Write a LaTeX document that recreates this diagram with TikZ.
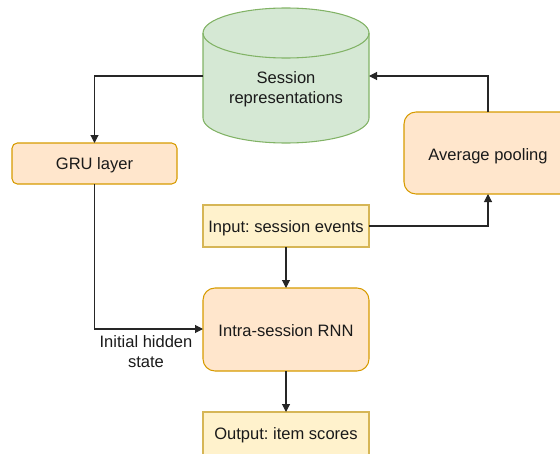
\documentclass[tikz,border=0pt]{standalone}
\usepackage{fontspec}
\setmainfont{Liberation Sans}
\usetikzlibrary{shapes.geometric,arrows.meta}
\definecolor{greenfill}{HTML}{D5E8D4}
\definecolor{greenline}{HTML}{82B366}
\definecolor{orangefill}{HTML}{FFE6CC}
\definecolor{orangeline}{HTML}{D79B00}
\definecolor{yellowfill}{HTML}{FFF2CC}
\definecolor{yellowline}{HTML}{D6B656}
\definecolor{textcol}{HTML}{1A1A1A}
\tikzset{
  every node/.style={font=\frenchspacing\fontsize{12.4}{15}\selectfont, text=textcol},
  procbox/.style={draw=orangeline, fill=orangefill, line width=0.8pt},
  iobox/.style={draw=yellowline, fill=yellowfill, line width=0.8pt},
  cylline/.style={draw=greenline, line width=0.8pt},
  flow/.style={draw=black!85, line width=0.8pt, -{Triangle[length=6pt,width=6pt]}},
}
\begin{document}
\begin{tikzpicture}[x=0.75pt,y=-0.75pt]
\useasboundingbox (0,0) rectangle (560,453);
\begin{scope}
\clip (0,0) rectangle (560,453);

% storage cylinder (y axis points down, so angle 90 is the lower side)
\fill[greenfill] (203,33) -- (203,118) arc[start angle=180,end angle=0,x radius=83,y radius=25]
  -- (369,33) arc[start angle=0,end angle=-180,x radius=83,y radius=25] -- cycle;
\draw[cylline] (203,33) -- (203,118) arc[start angle=180,end angle=0,x radius=83,y radius=25] -- (369,33);
\draw[cylline] (286,33) ellipse[x radius=83,y radius=25];
\coordinate (cylW) at (203,76);
\coordinate (cylE) at (369,76);
\node[align=center] (cyl) at (286,89) {Session\\representations};

% boxes
\draw[procbox, rounded corners=4pt] (12,143) rectangle (177,184);
\node (gru) at (94.5,165.5) {GRU layer};
\coordinate (gruN) at (94.5,143);
\coordinate (gruS) at (94.5,184);

\draw[procbox, rounded corners=9pt] (404,112) rectangle (572,194);
\node (pool) at (488,156) {Average pooling};
\coordinate (poolN) at (488,112);
\coordinate (poolS) at (488,194);

\draw[iobox] (203,205) rectangle (369,247);
\node (inp) at (286,228) {Input: session events};
\coordinate (inpE) at (369,226);
\coordinate (inpS) at (286,247);

\draw[procbox, rounded corners=9pt] (203,288) rectangle (369,371);
\node (rnn) at (286,331) {Intra-session RNN};
\coordinate (rnnN) at (286,288);
\coordinate (rnnW) at (203,329);
\coordinate (rnnS) at (286,371);

\draw[iobox] (203,412) rectangle (369,455);
\node (out) at (286,435) {Output: item scores};
\coordinate (outN) at (286,412);

% connectors
\draw[flow] (cylW) -| (gruN);
\draw[flow] (poolN) |- (cylE);
\draw[flow] (inpE) -| (poolS);
\draw[flow] (inpS) -- (rnnN);
\draw[flow] (gruS) |- (rnnW);
\draw[flow] (rnnS) -- (outN);
\node[align=center] (hid) at (146,352) {Initial hidden\\state};
\end{scope}
\end{tikzpicture}
\end{document}
